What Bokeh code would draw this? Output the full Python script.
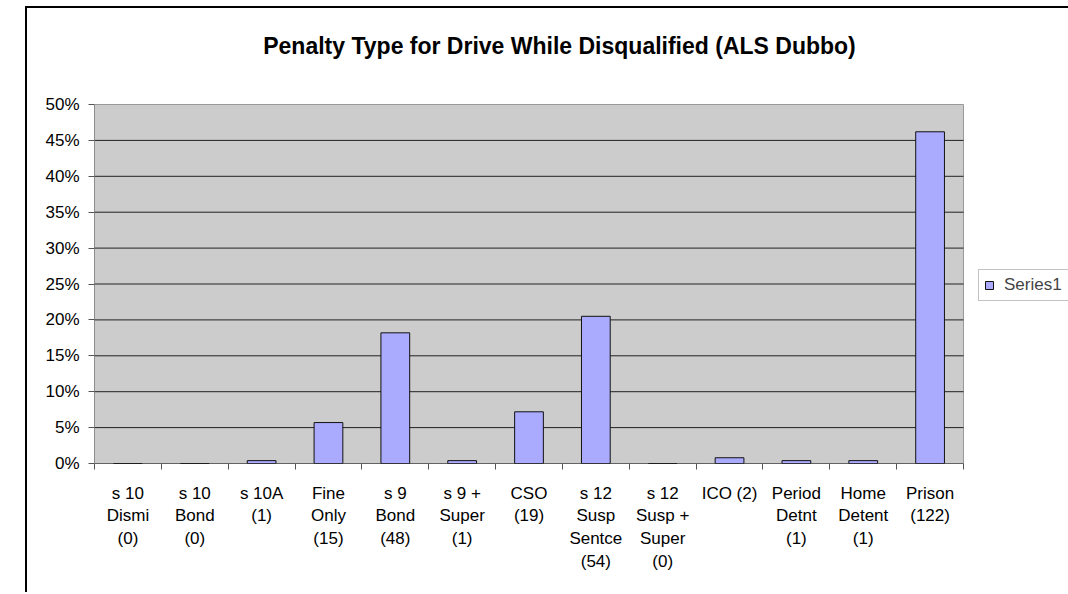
from bokeh.plotting import figure
from bokeh.models import (FixedTicker, NumeralTickFormatter, Legend, LegendItem,
                          Range1d, ColumnDataSource, Label)
from bokeh.embed import file_html
from bokeh.resources import INLINE

title_text = "Penalty Type for Drive While Disqualified (ALS Dubbo)"
categories = ["s 10\nDismi\n(0)", "s 10\nBond\n(0)", "s 10A\n(1)", "Fine\nOnly\n(15)",
              "s 9\nBond\n(48)", "s 9 +\nSuper\n(1)", "CSO\n(19)", "s 12\nSusp\nSentce\n(54)",
              "s 12\nSusp +\nSuper\n(0)", "ICO (2)", "Period\nDetnt\n(1)", "Home\nDetent\n(1)",
              "Prison\n(122)"]
percent = [0.0, 0.0, 0.4, 5.7, 18.2, 0.4, 7.2, 20.5, 0.0, 0.8, 0.4, 0.4, 46.2]
y_ticks = [0, 5, 10, 15, 20, 25, 30, 35, 40, 45, 50]

FONT = "Liberation Sans"

n = len(categories)
ymax = y_ticks[-1] / 100
xs = [i + 0.5 for i in range(n)]
src = ColumnDataSource(dict(x=xs, top=[v / 100 for v in percent]))

# plot area (gray) is 869 x 359 px; the frame extends to the right edge and top
PLOT_W, PLOT_H = 869, 359
FRAME_W, FRAME_H = 974, 455

p = figure(frame_width=FRAME_W, frame_height=FRAME_H, output_backend="svg",
           toolbar_location=None, title=None,
           x_range=Range1d(0, n * FRAME_W / PLOT_W), y_range=Range1d(0, ymax * FRAME_H / PLOT_H),
           min_border_left=67, min_border_right=0, min_border_top=0, min_border_bottom=129)
p.margin = (6, 0, 0, 25)
p.styles = {"border-left": "2px solid black", "border-top": "2px solid black"}

p.background_fill_color = "white"
p.border_fill_color = "white"
p.outline_line_color = None
p.xgrid.grid_line_color = None
p.ygrid.grid_line_color = None

# gray plot area
p.quad(left=[0], right=[n], bottom=[0], top=[ymax], fill_color="#CCCCCC",
       line_color="#999999", line_width=1)
# horizontal gridlines
grid_vals = [t / 100 for t in y_ticks[1:-1]]
p.segment(x0=[0] * len(grid_vals), x1=[n] * len(grid_vals), y0=grid_vals, y1=grid_vals,
          line_color="#222222", line_width=1)

r = p.vbar(x="x", top="top", width=0.43, source=src, fill_color="#AAAAFF",
           line_color="#111111", line_width=1)

# axis lines
p.segment(x0=[0], x1=[0], y0=[0], y1=[ymax], line_color="#555555", line_width=1)
p.segment(x0=[0], x1=[n], y0=[0], y1=[0], line_color="black", line_width=1)

# y axis
p.yaxis.ticker = FixedTicker(ticks=[t / 100 for t in y_ticks])
p.yaxis.formatter = NumeralTickFormatter(format="0%")
p.yaxis.axis_line_color = None
p.yaxis.major_tick_line_color = "#555555"
p.yaxis.major_tick_out = 6
p.yaxis.major_tick_in = 0
p.yaxis.minor_tick_line_color = None
p.yaxis.major_label_text_font = FONT
p.yaxis.major_label_text_font_size = "17px"
p.yaxis.major_label_text_color = "black"
p.yaxis.major_label_standoff = 9

# x axis
p.xaxis.ticker = FixedTicker(ticks=xs, minor_ticks=list(range(n + 1)))
p.xaxis.major_label_overrides = {x: c for x, c in zip(xs, categories)}
p.xaxis.axis_line_color = None
p.xaxis.major_tick_line_color = None
p.xaxis.major_tick_out = 6
p.xaxis.minor_tick_out = 6
p.xaxis.minor_tick_in = 0
p.xaxis.minor_tick_line_color = "#555555"
p.xaxis.major_label_text_font = FONT
p.xaxis.major_label_text_font_size = "17px"
p.xaxis.major_label_text_color = "black"
p.xaxis.major_label_text_line_height = 1.2
p.xaxis.major_label_standoff = 14

# title, centred over the whole chart box
title = Label(x=n * (559 - 94) / PLOT_W, y=ymax * (463 - 45) / PLOT_H, text=title_text,
              text_font=FONT, text_font_size="23px", text_font_style="bold",
              text_color="black", text_align="center", text_baseline="middle")
p.add_layout(title)

legend = Legend(items=[LegendItem(label="Series1", renderers=[r])],
                location=(884, 162), orientation="vertical",
                label_text_font=FONT, label_text_font_size="17px",
                glyph_width=10, glyph_height=10, label_standoff=10, label_width=72,
                padding=5, margin=0, spacing=0,
                border_line_color="#888888", border_line_width=1,
                background_fill_color="white", background_fill_alpha=1)
p.add_layout(legend, "center")

open("out.html", "w").write(file_html(p, INLINE))
